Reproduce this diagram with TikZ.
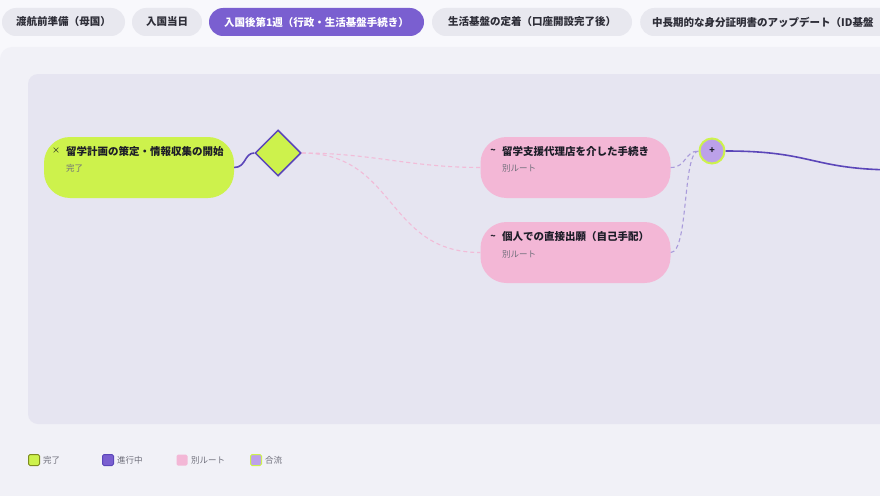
\documentclass[tikz,border=0pt]{standalone}
\usepackage{fontspec}
\setmainfont{Noto Sans CJK JP}
\usetikzlibrary{shapes.geometric,positioning}

\definecolor{pagebg}{HTML}{F8F8FC}
\definecolor{panelbg}{HTML}{F1F1F7}
\definecolor{areabg}{HTML}{E6E5F1}
\definecolor{tabgray}{HTML}{E8E8EF}
\definecolor{tabtext}{HTML}{2E2E38}
\definecolor{tabpurple}{HTML}{7A5FD0}
\definecolor{lime}{HTML}{CDF24C}
\definecolor{limeedge}{HTML}{7E8C1E}
\definecolor{rosa}{HTML}{F3B7D6}
\definecolor{flowpurple}{HTML}{5B46B9}
\definecolor{mergelav}{HTML}{BCA1E9}
\definecolor{joinlav}{HTML}{A99BDB}
\definecolor{altpink}{HTML}{F2BCD8}
\definecolor{ink}{HTML}{1D1D28}
\definecolor{subgray}{HTML}{6E6E7A}

\tikzset{
  tab/.style={rounded corners=14pt, minimum height=28pt, fill=tabgray, text=tabtext,
    font=\fontsize{10.5}{12}\selectfont\bfseries, inner sep=0pt},
  stage/.style={rounded corners=26pt, minimum width=190pt, minimum height=61pt, inner sep=0pt},
  title/.style={anchor=west, font=\fontsize{10.5}{12}\selectfont\bfseries, text=ink, inner sep=0pt},
  subtitle/.style={anchor=west, font=\fontsize{8.5}{10}\selectfont, text=subgray, inner sep=0pt},
  flow/.style={draw=flowpurple, line width=1.6pt},
  altline/.style={draw=altpink, dash pattern=on 4pt off 3pt, line width=1.1pt},
  joinline/.style={draw=joinlav, dash pattern=on 4pt off 3pt, line width=1.1pt},
  legendbox/.style={minimum size=11pt, inner sep=0pt, rounded corners=1.5pt, line width=1pt},
  legendtext/.style={anchor=west, font=\fontsize{8.5}{10}\selectfont, text=subgray, inner sep=0pt}
}

\begin{document}
\begin{tikzpicture}[x=1pt,y=-1pt]
\useasboundingbox (0,0) rectangle (880,495);
\clip (0,0) rectangle (880,495);
\fill[pagebg] (0,0) rectangle (880,495);
\fill[panelbg, rounded corners=12pt] (0,47) rectangle (900,520);
\fill[areabg, rounded corners=10pt] (28,74) rectangle (900,424);

% tabs
\node[tab, minimum width=123pt] (tabhome) at (63.5,22) {渡航前準備（母国）};
\node[tab, minimum width=70pt] (tabarrive) at (167,22) {入国当日};
\node[tab, minimum width=215pt, fill=tabpurple, text=white] (tabweek) at (316.5,22) {入国後第1週（行政・生活基盤手続き）};
\node[tab, minimum width=200pt] (tabsettle) at (532,22) {生活基盤の定着（口座開設完了後）};
\node[tab, minimum width=270pt, anchor=west, text width=250pt, align=left] (tabid) at (640,22) {\hspace*{2pt}中長期的な身分証明書のアップデート（ID基盤};

% stages
\node[stage, fill=lime] (plan) at (139,167.5) {};
\node[text=ink, font=\fontsize{8}{10}\selectfont] (planmark) at (56,151) {×};
\node[title] (plantitle) at (66,151) {留学計画の策定・情報収集の開始};
\node[subtitle] (planstate) at (66,168) {完了};

\node[diamond, aspect=1, minimum size=46pt, inner sep=0pt, fill=lime, draw=flowpurple, line width=1.5pt] (gate) at (278,153) {};

\node[stage, fill=rosa] (agency) at (575.5,167.5) {};
\node[text=ink, font=\fontsize{9}{10}\selectfont\bfseries] (agencymark) at (493,151) {\textasciitilde};
\node[title] (agencytitle) at (502,151) {留学支援代理店を介した手続き};
\node[subtitle] (agencystate) at (502,168) {別ルート};

\node[stage, fill=rosa] (self) at (575.5,252.5) {};
\node[text=ink, font=\fontsize{9}{10}\selectfont\bfseries] (selfmark) at (493,237) {\textasciitilde};
\node[title] (selftitle) at (502,237) {個人での直接出願（自己手配）};
\node[subtitle] (selfstate) at (502,254) {別ルート};

\node[circle, minimum size=25pt, inner sep=0pt, fill=mergelav, draw=lime, line width=2pt,
  text=ink, font=\fontsize{9}{10}\selectfont\bfseries] (merge) at (712,151) {+};
\coordinate (exit) at (900,170);

% connectors
\draw[flow] (plan.east) .. controls +(12,0) and +(-10,0) .. (gate.west);
\draw[altline] (gate.east) .. controls +(70,0) and +(-70,0) .. (agency.west);
\draw[altline] (gate.east) .. controls +(95,0) and +(-95,0) .. (self.west);
\draw[joinline] (agency.east) .. controls +(16,0) and +(-14,0) .. (merge.west);
\draw[joinline] (self.east) .. controls +(18,0) and +(-16,0) .. (merge.west);
\draw[flow] (merge.east) .. controls +(90,0) and +(-90,0) .. (exit);

% legend
\node[legendbox, fill=lime, draw=limeedge] (keydone) at (34,460) {};
\node[legendtext] (keydonetext) at (43,460) {完了};
\node[legendbox, fill=tabpurple, draw=flowpurple] (keyrun) at (108,460) {};
\node[legendtext] (keyruntext) at (117,460) {進行中};
\node[legendbox, fill=rosa] (keyalt) at (182,460) {};
\node[legendtext] (keyalttext) at (191,460) {別ルート};
\node[legendbox, fill=mergelav, draw=lime] (keymerge) at (256,460) {};
\node[legendtext] (keymergetext) at (265,460) {合流};
\end{tikzpicture}
\end{document}
